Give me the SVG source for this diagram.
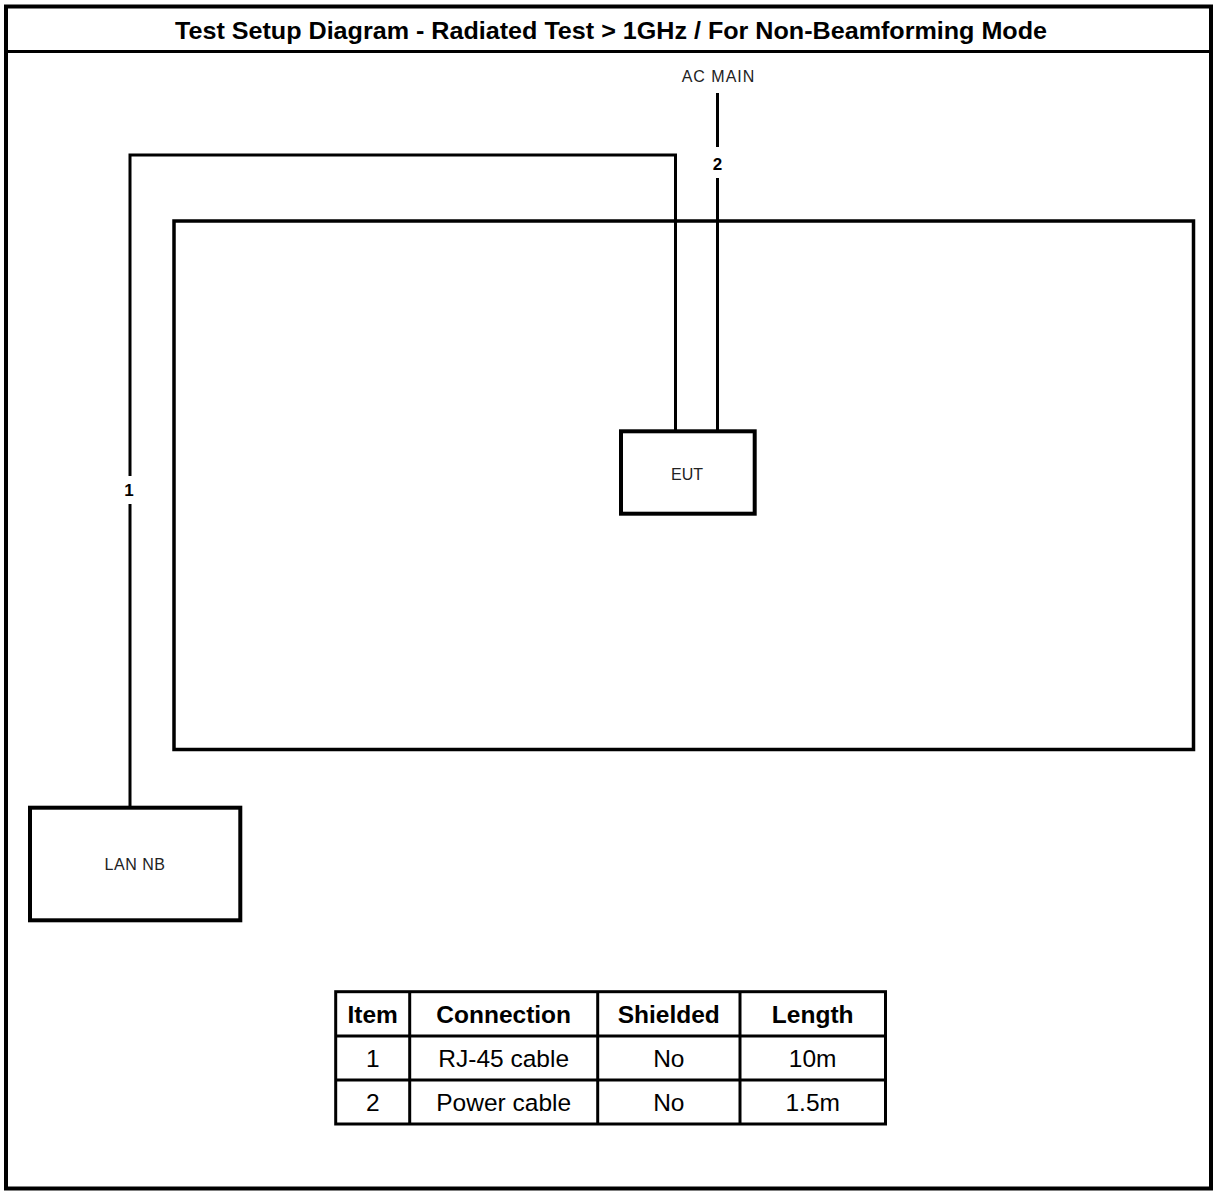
<svg xmlns="http://www.w3.org/2000/svg" width="1214" height="1191" viewBox="0 0 1214 1191">
<style>
.frame{fill:none;stroke:#000;stroke-width:4}
.box{fill:#fff;stroke:#000;stroke-width:4}
.wire{fill:none;stroke:#000;stroke-width:3}
.title{font-family:"Liberation Sans",Arial,sans-serif;font-weight:bold;font-size:24px;fill:#000;text-anchor:middle}
.lbl{font-family:"Liberation Sans",Arial,sans-serif;font-size:16px;fill:#222;text-anchor:middle}
.num{font-family:"Liberation Sans",Arial,sans-serif;font-weight:bold;font-size:17px;fill:#000;text-anchor:middle}
.th{font-family:"Liberation Sans",Arial,sans-serif;font-weight:bold;font-size:24.5px;fill:#000;text-anchor:middle}
.td{font-family:"Liberation Sans",Arial,sans-serif;font-size:24.5px;fill:#000;text-anchor:middle}
.grid{fill:none;stroke:#000;stroke-width:3}
</style>
<rect width="1214" height="1191" fill="#fff"/>
<g id="frame">
<rect class="frame" x="6" y="6.5" width="1205" height="1182"/>
<line x1="6" y1="51.5" x2="1211" y2="51.5" stroke="#000" stroke-width="3"/>
<text class="title" x="611" y="38.5" textLength="872" lengthAdjust="spacingAndGlyphs">Test Setup Diagram - Radiated Test &gt; 1GHz / For Non-Beamforming Mode</text>
</g>
<g id="chamber">
<rect x="174" y="221" width="1019.5" height="528.5" fill="none" stroke="#000" stroke-width="3.5"/>
</g>
<g id="connectors">
<polyline class="wire" points="675.5,431 675.5,155 130,155 130,476"/>
<line class="wire" x1="130" y1="504" x2="130" y2="808"/>
<text class="num" x="129" y="496">1</text>
<line class="wire" x1="717.5" y1="93" x2="717.5" y2="147"/>
<line class="wire" x1="717.5" y1="178" x2="717.5" y2="431"/>
<text class="num" x="717.5" y="170">2</text>
</g>
<g id="ac-main">
<text class="lbl" x="718.5" y="82" font-size="17" letter-spacing="1">AC MAIN</text>
</g>
<g id="eut">
<rect class="box" x="621" y="431.3" width="133.7" height="82.4"/>
<text class="lbl" x="687" y="479.5" font-size="17">EUT</text>
</g>
<g id="lan-nb">
<rect class="box" x="30" y="807.7" width="210.3" height="112.6"/>
<text class="lbl" x="135" y="870" font-size="17" letter-spacing="0.5">LAN NB</text>
</g>
<g id="table">
<rect class="grid" x="335.7" y="991.7" width="549.8" height="132.3"/>
<line class="grid" x1="335.7" y1="1036" x2="885.5" y2="1036"/>
<line class="grid" x1="335.7" y1="1080" x2="885.5" y2="1080"/>
<line class="grid" x1="409.7" y1="991.7" x2="409.7" y2="1124"/>
<line class="grid" x1="597.7" y1="991.7" x2="597.7" y2="1124"/>
<line class="grid" x1="740" y1="991.7" x2="740" y2="1124"/>
<text class="th" x="372.7" y="1023">Item</text>
<text class="th" x="503.7" y="1023">Connection</text>
<text class="th" x="668.8" y="1023">Shielded</text>
<text class="th" x="812.7" y="1023">Length</text>
<text class="td" x="372.7" y="1067">1</text>
<text class="td" x="503.7" y="1067">RJ-45 cable</text>
<text class="td" x="668.8" y="1067">No</text>
<text class="td" x="812.7" y="1067">10m</text>
<text class="td" x="372.7" y="1111">2</text>
<text class="td" x="503.7" y="1111">Power cable</text>
<text class="td" x="668.8" y="1111">No</text>
<text class="td" x="812.7" y="1111">1.5m</text>
</g>
</svg>
